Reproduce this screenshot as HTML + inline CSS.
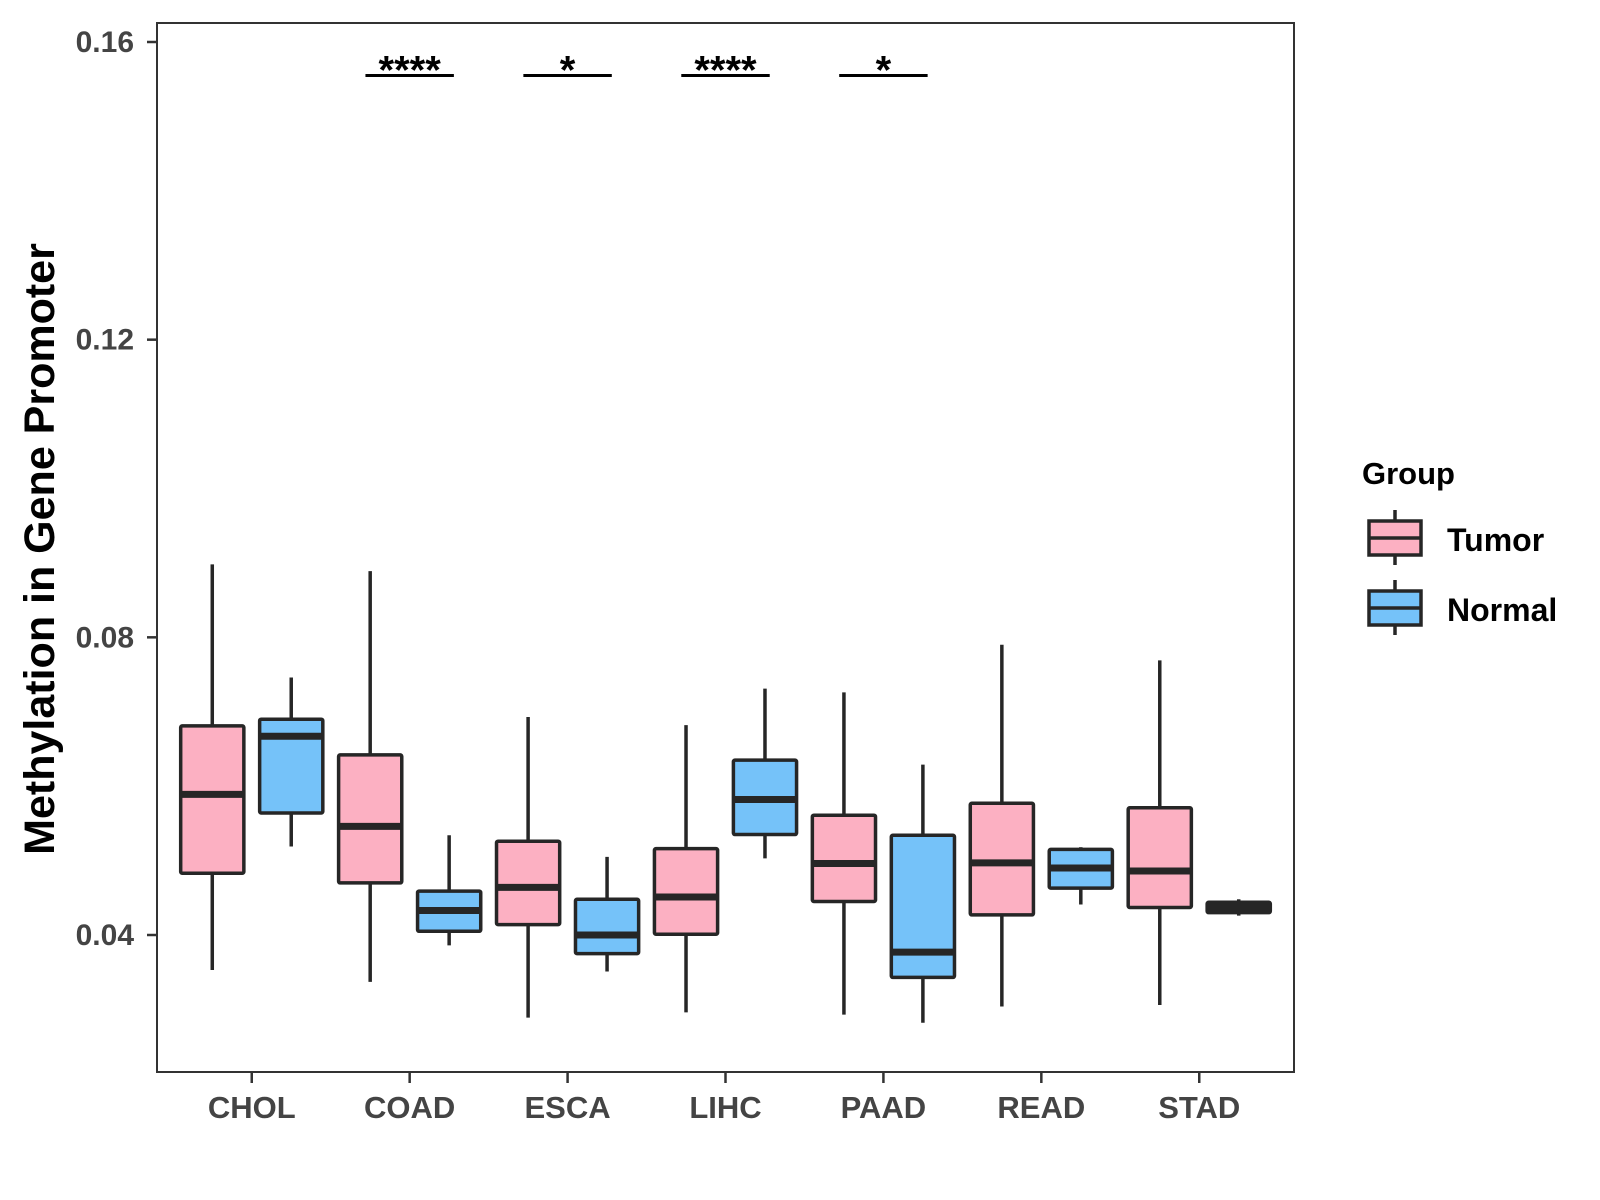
<!DOCTYPE html>
<html><head><meta charset="utf-8"><style>
html,body{margin:0;padding:0;background:#fff}
svg{display:block}
text{font-family:"Liberation Sans",Arial,sans-serif;font-weight:bold}
</style></head><body>
<svg id="chart" width="1600" height="1200" viewBox="0 0 1600 1200" xmlns="http://www.w3.org/2000/svg">
<rect x="0" y="0" width="1600" height="1200" fill="#fff"/>
<g id="plot"></g>
<text x="0" y="0" transform="translate(54,549) rotate(-90)" text-anchor="middle" font-size="43" fill="#000">Methylation in Gene Promoter</text>
<g>
<text x="1362" y="484" font-size="31" fill="#000">Group</text>
<g>
<line x1="1395" y1="510" x2="1395" y2="565" stroke="#262626" stroke-width="3.5"/>
<rect x="1369" y="521" width="52" height="34" fill="#FCB0C2" stroke="#262626" stroke-width="3.5"/>
<line x1="1369" y1="538" x2="1421" y2="538" stroke="#262626" stroke-width="3.5"/>
<text x="1447" y="551" font-size="32" fill="#000">Tumor</text>
</g>
<g>
<line x1="1395" y1="580" x2="1395" y2="635" stroke="#262626" stroke-width="3.5"/>
<rect x="1369" y="591" width="52" height="34" fill="#75C2F9" stroke="#262626" stroke-width="3.5"/>
<line x1="1369" y1="608" x2="1421" y2="608" stroke="#262626" stroke-width="3.5"/>
<text x="1447" y="621" font-size="32" fill="#000">Normal</text>
</g>
</g>
</svg>
<script>
const categories = ["CHOL","COAD","ESCA","LIHC","PAAD","READ","STAD"];
const groups = ["Tumor","Normal"];
// [lower whisker, Q1, median, Q3, upper whisker]
const tumorStats = [
 [0.0353,0.0483,0.0589,0.0681,0.0898],
 [0.0337,0.0470,0.0546,0.0642,0.0889],
 [0.0289,0.0414,0.0464,0.0526,0.0693],
 [0.0296,0.0401,0.0451,0.0516,0.0682],
 [0.0293,0.0445,0.0496,0.0561,0.0726],
 [0.0304,0.0427,0.0497,0.0577,0.0790],
 [0.0306,0.0437,0.0486,0.0571,0.0769]
];
const normalStats = [
 [0.0519,0.0564,0.0667,0.0690,0.0746],
 [0.0386,0.0405,0.0433,0.0459,0.0534],
 [0.0351,0.0375,0.0400,0.0448,0.0505],
 [0.0503,0.0535,0.0582,0.0635,0.0731],
 [0.0282,0.0343,0.0377,0.0534,0.0629],
 [0.0441,0.0463,0.0490,0.0515,0.0518],
 [0.0426,0.0430,0.0437,0.0444,0.0448]
];
const yTicks = [0.04,0.08,0.12,0.16];
const yTickLabels = ["0.04","0.08","0.12","0.16"];
const sigCategories = ["COAD","ESCA","LIHC","PAAD"];
const sigLabels = ["****","*","****","*"];
const sigValue = 0.1555;

const NS="http://www.w3.org/2000/svg";
const P={l:157,r:1294,t:23,b:1072};
const unit=(P.r-P.l)/7.2;
function xScale(i){return P.l+(i+1-0.4)*unit;}
function yScale(v){return 935-(v-0.04)/0.12*(935-42);}
const g=document.getElementById('plot');
function mk(tag,attrs,parent){const e=document.createElementNS(NS,tag);for(const k in attrs)e.setAttribute(k,attrs[k]);(parent||g).appendChild(e);return e;}

const panel=mk('rect',{x:P.l,y:P.t,width:P.r-P.l,height:P.b-P.t,fill:'#fff',stroke:'#333',"stroke-width":2});



yTicks.forEach((v,i)=>{
 const y=yScale(v);
 const t=mk('line',{x1:P.l-10,x2:P.l,y1:y,y2:y,stroke:'#333',"stroke-width":2.5});
 
 
 const tx=mk('text',{x:P.l-23,y:y+10,"text-anchor":"end","font-size":30,fill:'#444'});
 tx.textContent=yTickLabels[i];
 
 
});
categories.forEach((c,i)=>{
 const x=xScale(i);
 const t=mk('line',{x1:x,x2:x,y1:P.b,y2:P.b+11,stroke:'#333',"stroke-width":2.5});
 
 
 const tx=mk('text',{x:x,y:P.b+46,"text-anchor":"middle","font-size":31,fill:'#444'});
 tx.textContent=c;
 
 
});
function drawBox(s,cx,fill,name){
 const w=0.4*unit;
 const bg=mk('g',{});
 
 
 mk('line',{x1:cx,x2:cx,y1:yScale(s[4]),y2:yScale(s[0]),stroke:'#262626',"stroke-width":3.5},bg);
 mk('rect',{x:cx-w/2,y:yScale(s[3]),width:w,height:yScale(s[1])-yScale(s[3]),fill:fill,stroke:'#262626',"stroke-width":3.5,rx:1.5},bg);
 mk('line',{x1:cx-w/2,x2:cx+w/2,y1:yScale(s[2]),y2:yScale(s[2]),stroke:'#262626',"stroke-width":7},bg);
}
categories.forEach((c,i)=>{
 drawBox(tumorStats[i],xScale(i)-0.25*unit,'#FCB0C2','box-tumor-'+c.toLowerCase());
 drawBox(normalStats[i],xScale(i)+0.25*unit,'#75C2F9','box-normal-'+c.toLowerCase());
});
sigCategories.forEach((c,k)=>{
 const i=categories.indexOf(c);
 const x=xScale(i), y=yScale(sigValue);
 const l=mk('line',{x1:x-0.28*unit,x2:x+0.28*unit,y1:y,y2:y,stroke:'#000',"stroke-width":3});
 
 
 const t=mk('text',{x:x,y:y+8,"text-anchor":"middle","font-size":40,fill:'#000'});
 t.textContent=sigLabels[k];
 
 
});
</script>
</body></html>
